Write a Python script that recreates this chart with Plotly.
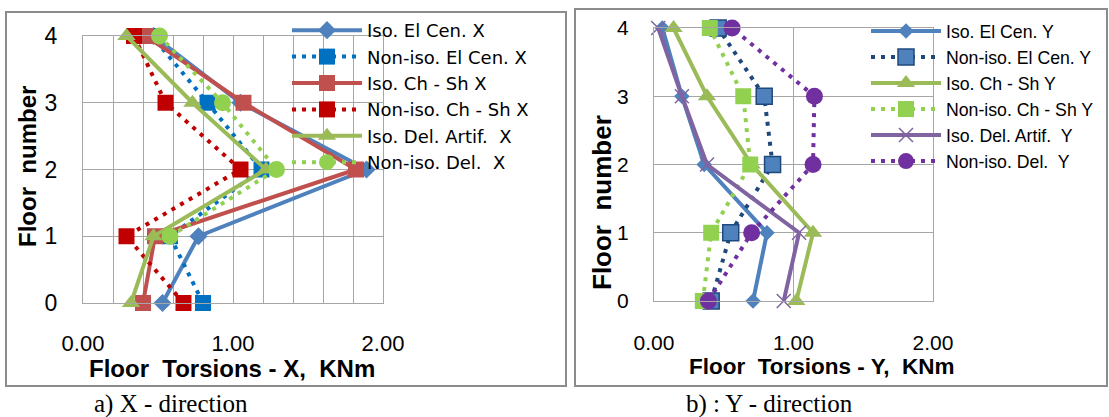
import plotly.graph_objects as go

# Floor levels
floors = [0, 1, 2, 3, 4]

# Floor torsions, X direction (KNm)
iso_elcen_x = [0.53, 0.77, 1.89, 1.05, 0.47]
noniso_elcen_x = [0.80, 0.58, 1.19, 0.83, 0.46]
iso_chsh_x = [0.40, 0.48, 1.82, 1.07, 0.42]
noniso_chsh_x = [0.67, 0.29, 1.05, 0.55, 0.34]
iso_del_x = [0.32, 0.47, 1.22, 0.73, 0.29]
noniso_del_x = [None, 0.58, 1.29, 0.93, 0.51]

# Floor torsions, Y direction (KNm)
iso_elcen_y = [0.71, 0.81, 0.36, 0.20, 0.06]
noniso_elcen_y = [0.41, 0.55, 0.85, 0.79, 0.46]
iso_chsh_y = [1.02, 1.14, 0.70, 0.38, 0.14]
noniso_chsh_y = [0.35, 0.41, 0.69, 0.64, 0.40]
iso_del_y = [0.93, 1.04, 0.38, 0.20, 0.03]
noniso_del_y = [0.39, 0.70, 1.14, 1.15, 0.56]

x_ticks = [0, 1, 2]
x_ticktext = ["0.00", "1.00", "2.00"]

W, H = 1109, 417
FONT = "Liberation Sans"
DOTTED = "4px,6px"


def px(x):
    return x / W


def py(y):
    return 1 - y / H


fig = go.Figure()

left_series = [
    ("Iso. El Cen. X", iso_elcen_x, "#4F81BD", "solid", "diamond", 14),
    ("Non-iso. El Cen. X", noniso_elcen_x, "#0070C0", DOTTED, "square", 16),
    ("Iso. Ch - Sh X", iso_chsh_x, "#C0504D", "solid", "square", 16),
    ("Non-iso. Ch - Sh X", noniso_chsh_x, "#C00000", DOTTED, "square", 16),
    ("Iso. Del. Artif.  X", iso_del_x, "#9BBB59", "solid", "triangle-up", 16),
    ("Non-iso. Del.  X", noniso_del_x, "#92D050", DOTTED, "circle", 17),
]

right_series = [
    ("Iso. El Cen. Y", iso_elcen_y, "#4F81BD", "solid", "diamond", 12, None),
    ("Non-iso. El Cen. Y", noniso_elcen_y, "#1F497D", DOTTED, "square", 16, "#4F81BD"),
    ("Iso. Ch - Sh Y", iso_chsh_y, "#9BBB59", "solid", "triangle-up", 16, None),
    ("Non-iso. Ch - Sh Y", noniso_chsh_y, "#92D050", DOTTED, "square", 16, None),
    ("Iso. Del. Artif.  Y", iso_del_y, "#8064A2", "solid", "x-thin-open", 14, None),
    ("Non-iso. Del.  Y", noniso_del_y, "#7030A0", DOTTED, "circle", 17, None),
]

for name, vals, color, dash, sym, size in left_series:
    fig.add_trace(go.Scatter(
        x=vals, y=floors, name=name, mode="lines+markers",
        line=dict(color=color, width=4, dash=dash),
        marker=dict(symbol=sym, size=size, color=color),
        xaxis="x", yaxis="y", legend="legend", cliponaxis=False,
    ))

for name, vals, color, dash, sym, size, fill in right_series:
    mk = dict(symbol=sym, size=size, color=fill or color)
    if sym == "x-thin-open":
        mk["line"] = dict(color=color, width=1.5)
    elif fill:
        mk["line"] = dict(color=color, width=1.5)
    fig.add_trace(go.Scatter(
        x=vals, y=floors, name=name, mode="lines+markers",
        line=dict(color=color, width=4, dash=dash),
        marker=mk,
        xaxis="x2", yaxis="y2", legend="legend2", cliponaxis=False,
    ))

grid = "#A6A6A6"
axis_common = dict(showline=True, mirror=True, linecolor=grid, linewidth=1,
                   showgrid=True, gridcolor=grid, gridwidth=1, zeroline=False,
                   ticks="", fixedrange=True, automargin=False)

fig.update_layout(
    width=W, height=H,
    margin=dict(l=0, r=0, t=0, b=0, autoexpand=False),
    paper_bgcolor="white", plot_bgcolor="white",
    font=dict(family=FONT, color="#000000"),
    xaxis=dict(domain=[px(83), px(383)], range=[0, 2], tickvals=x_ticks,
               ticktext=x_ticktext, anchor="y",
               minor=dict(dtick=0.2, tick0=0, showgrid=True, gridcolor=grid, gridwidth=1),
               tickfont=dict(size=22), ticklabelstandoff=21, **axis_common),
    yaxis=dict(domain=[py(303), py(36)], range=[0, 4], dtick=1, anchor="x",
               tickfont=dict(size=23), ticklabelstandoff=20, **axis_common),
    xaxis2=dict(domain=[px(654), px(933)], range=[0, 2], tickvals=x_ticks,
                ticktext=x_ticktext, anchor="y2",
                tickfont=dict(size=21), ticklabelstandoff=23, **axis_common),
    yaxis2=dict(domain=[py(301), py(28)], range=[0, 4], dtick=1, anchor="x2",
                tickfont=dict(size=21), ticklabelstandoff=20, **axis_common),
    legend=dict(x=px(287), y=py(12), xanchor="left", yanchor="top",
                bgcolor="rgba(0,0,0,0)", font=dict(size=18, family="DejaVu Sans"),
                itemwidth=70, tracegroupgap=0, itemclick=False),
    legend2=dict(x=px(866), y=py(13), xanchor="left", yanchor="top",
                 bgcolor="rgba(0,0,0,0)", font=dict(size=17.7), itemwidth=70,
                 tracegroupgap=0, itemclick=False),
    shapes=[
        dict(type="rect", xref="paper", yref="paper", x0=px(6), x1=px(566),
             y0=py(386), y1=py(12), line=dict(color="#8C8C8C", width=2), layer="below"),
        dict(type="rect", xref="paper", yref="paper", x0=px(575), x1=px(1107),
             y0=py(386), y1=py(9), line=dict(color="#8C8C8C", width=2), layer="below"),
    ],
    annotations=[
        dict(text="<b>Floor\u00a0 Torsions - X,\u00a0 KNm</b>", x=px(232), y=py(368),
             xref="paper", yref="paper", showarrow=False, font=dict(size=24),
             xanchor="center", yanchor="middle"),
        dict(text="<b>Floor\u00a0 number</b>", x=px(28), y=py(167), textangle=-90,
             xref="paper", yref="paper", showarrow=False, font=dict(size=24),
             xanchor="center", yanchor="middle"),
        dict(text="<b>Floor\u00a0 Torsions - Y,\u00a0 KNm</b>", x=px(821), y=py(366),
             xref="paper", yref="paper", showarrow=False, font=dict(size=22.5),
             xanchor="center", yanchor="middle"),
        dict(text="<b>Floor\u00a0 number</b>", x=px(602), y=py(203), textangle=-90,
             xref="paper", yref="paper", showarrow=False, font=dict(size=26),
             xanchor="center", yanchor="middle"),
        dict(text="a) X - direction", x=px(171), y=py(404),
             xref="paper", yref="paper", showarrow=False,
             font=dict(size=25, family="Liberation Serif"),
             xanchor="center", yanchor="middle"),
        dict(text="b) : Y - direction", x=px(769), y=py(404),
             xref="paper", yref="paper", showarrow=False,
             font=dict(size=25, family="Liberation Serif"),
             xanchor="center", yanchor="middle"),
    ],
)

fig.write_html("out.html")
